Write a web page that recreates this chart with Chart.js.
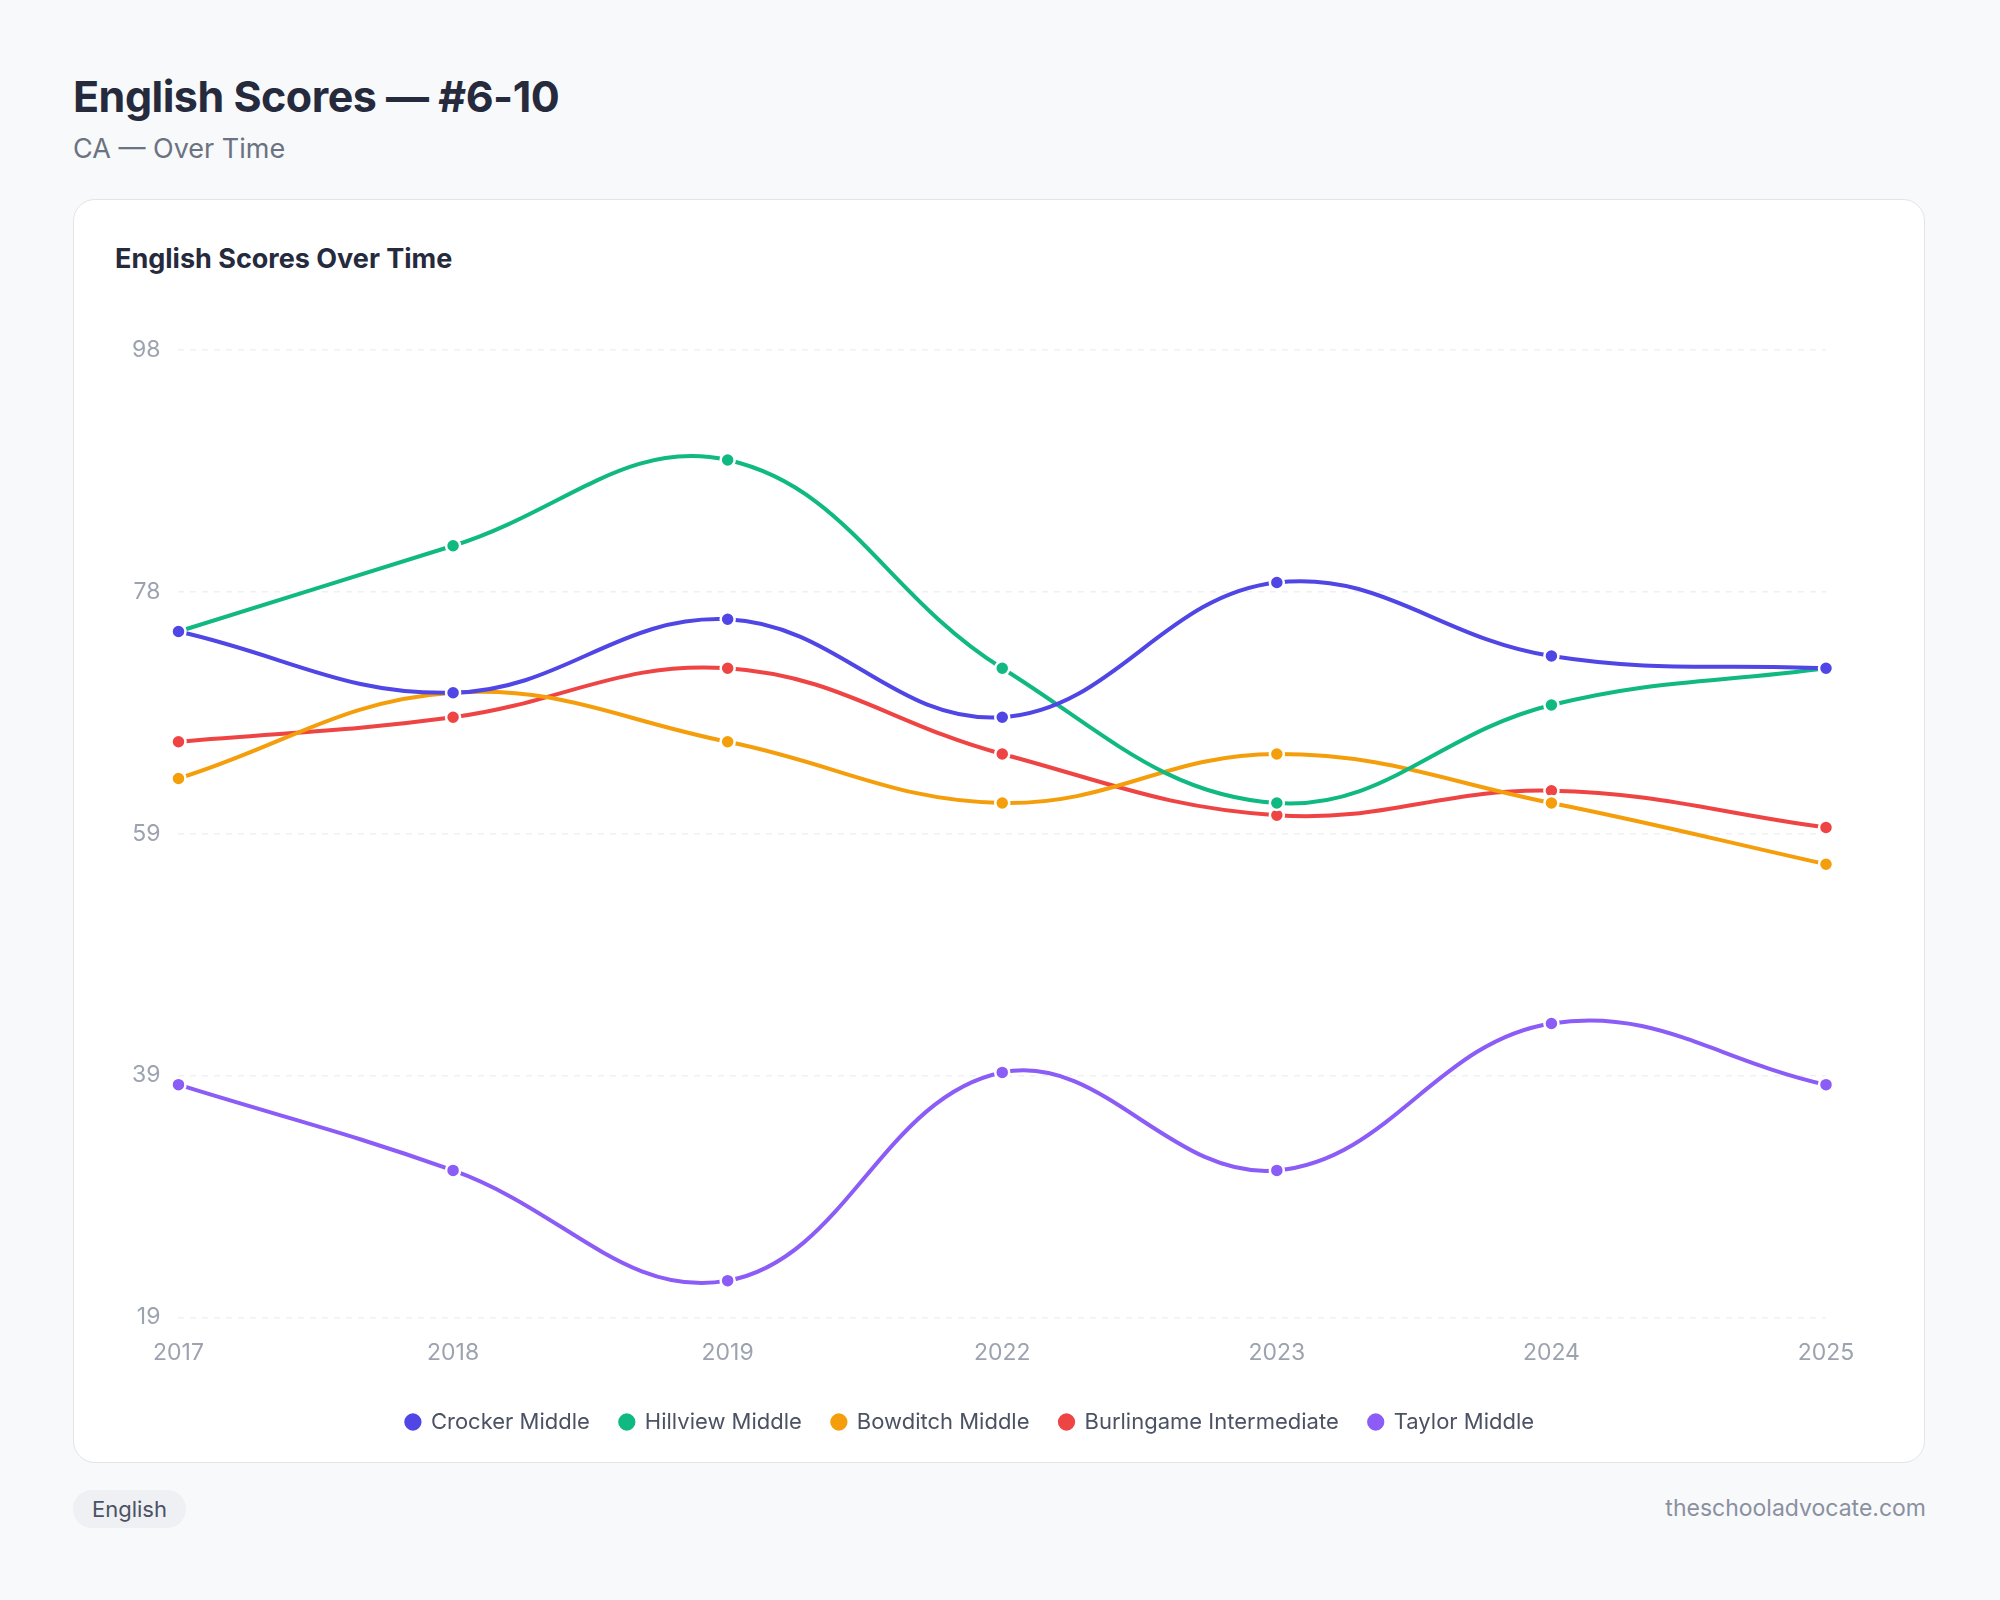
<!DOCTYPE html>
<html>
<head>
<meta charset="utf-8">
<script src="https://cdn.jsdelivr.net/npm/chart.js@4"></script>
<style>
  body { margin: 0; background: #f8f9fb; font-family: Inter, sans-serif; width: 2000px; height: 1600px; position: relative; }
  h1 { position: absolute; left: 73px; top: 70px; margin: 0; font-size: 43px; font-weight: 700; color: #262a3d; letter-spacing: -0.5px; }
  .sub { position: absolute; left: 73px; top: 132px; font-size: 27px; color: #6b7280; }
  .card { position: absolute; left: 73px; top: 199px; width: 1852px; height: 1264px; background: #fff; border: 1.5px solid #e2e4e9; border-radius: 22px; box-sizing: border-box; }
  .card h2 { position: absolute; left: 41px; top: 42px; margin: 0; font-size: 27px; font-weight: 700; color: #262a3d; }
  .wrap { position: absolute; left: 40px; top: 118px; width: 1770px; height: 1125px; }
  .badge { position: absolute; left: 73px; top: 1490px; padding: 0 19px; height: 38px; line-height: 38px; background: #eef0f3; border-radius: 19px; font-size: 22px; color: #4b5263; }
  .site { position: absolute; right: 74px; top: 1494px; font-size: 23px; color: #8a90a0; }
</style>
</head>
<body>
<h1>English Scores — #6-10</h1>
<div class="sub">CA — Over Time</div>
<div class="card">
  <h2>English Scores Over Time</h2>
  <div class="wrap"><canvas id="grafico"></canvas></div>
</div>
<div class="badge">English</div>
<div class="site">theschooladvocate.com</div>
<script>
const anios = ['2017', '2018', '2019', '2022', '2023', '2024', '2025'];
const crocker = [75, 70, 76, 68, 79, 73, 72];
const hillview = [75, 82, 89, 72, 61, 69, 72];
const bowditch = [63, 70, 66, 61, 65, 61, 56];
const burlingame = [66, 68, 72, 65, 60, 62, 59];
const taylor = [38, 31, 22, 39, 31, 43, 38];

function serie(nombre, datos, color) {
    return {
        label: nombre,
        data: datos,
        borderColor: color,
        backgroundColor: color,
        pointBackgroundColor: color,
        pointBorderColor: '#fff',
        pointBorderWidth: 2.5,
        pointRadius: 7,
        borderWidth: 4,
        tension: 0.4,
        fill: false
    };
}

new Chart(document.getElementById('grafico'), {
    type: 'line',
    data: {
        labels: anios,
        datasets: [
            serie('Crocker Middle', crocker, '#4f46e5'),
            serie('Hillview Middle', hillview, '#10b981'),
            serie('Bowditch Middle', bowditch, '#f59e0b'),
            serie('Burlingame Intermediate', burlingame, '#ef4444'),
            serie('Taylor Middle', taylor, '#8b5cf6')
        ]
    },
    options: {
        responsive: true,
        maintainAspectRatio: false,
        animation: false,
        layout: { padding: { right: 58, left: 0, top: 10 } },
        plugins: {
            legend: {
                position: 'bottom',
                labels: {
                    usePointStyle: true,
                    pointStyle: 'circle',
                    boxWidth: 14,
                    boxHeight: 14,
                    padding: 30,
                    font: { family: 'Inter', size: 22 },
                    color: '#4b5263'
                }
            }
        },
        scales: {
            y: {
                min: 19,
                max: 98,
                ticks: {
                    stepSize: 19.75,
                    callback: v => Math.round(v),
                    font: { family: 'Inter', size: 23 },
                    color: '#9ca3af',
                    padding: 18
                },
                grid: { color: '#eef0f3', lineWidth: 1.5, drawTicks: false },
                border: { display: false, dash: [6, 6] }
            },
            x: {
                offset: false,
                ticks: {
                    font: { family: 'Inter', size: 23 },
                    color: '#9ca3af',
                    padding: 14
                },
                grid: { display: false },
                border: { display: false }
            }
        }
    }
});
</script>
</body>
</html>
